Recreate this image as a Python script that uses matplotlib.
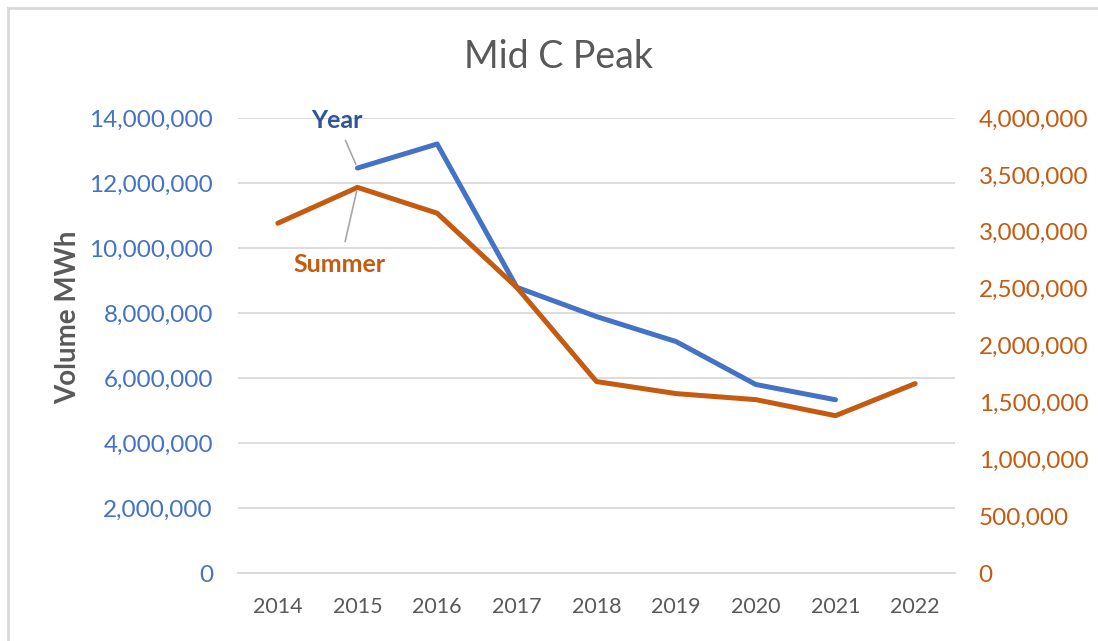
import matplotlib
matplotlib.use('Agg')
import matplotlib.pyplot as plt
from matplotlib.ticker import FuncFormatter, MultipleLocator
from matplotlib.lines import Line2D

# --- data ---
years = [2014, 2015, 2016, 2017, 2018, 2019, 2020, 2021, 2022]
year_vol = [None, 12460000, 13200000, 8790000, 7890000, 7120000, 5800000, 5330000, None]
summer_vol = [3075000, 3390000, 3163000, 2510000, 1683000, 1577000, 1524000, 1383000, 1665000]

BLUE = '#4472C4'
ORANGE = '#C55A11'
GREY = '#595959'

plt.rcParams['font.family'] = ['Lato', 'DejaVu Sans']

fig = plt.figure(figsize=(10.98, 6.41), dpi=100)
ax = fig.add_axes([238/1098, 1 - 573/641, (955-238)/1098, (573-118)/641])
ax2 = ax.twinx()

xs = list(range(len(years)))
yx = [x for x, v in zip(xs, year_vol) if v is not None]
yv = [v for v in year_vol if v is not None]
ax.plot(yx, yv, color=BLUE, lw=3.6, solid_capstyle='round', solid_joinstyle='round', zorder=3)
ax2.plot(xs, summer_vol, color=ORANGE, lw=3.6, solid_capstyle='round', solid_joinstyle='round', zorder=3)

ax.set_xlim(-0.5, len(years) - 0.5)
ax.set_ylim(0, 14000000)
ax2.set_ylim(0, 4000000)
ax.yaxis.set_major_locator(MultipleLocator(2000000))
ax2.yaxis.set_major_locator(MultipleLocator(500000))
fmt = FuncFormatter(lambda v, p: f'{v:,.0f}')
ax.yaxis.set_major_formatter(fmt)
ax2.yaxis.set_major_formatter(fmt)
ax.set_xticks(xs)
ax.set_xticklabels([str(y) for y in years])

ax.grid(axis='y', color='#D9D9D9', lw=1.3)
ax.set_axisbelow(True)
for a in (ax, ax2):
    for s in a.spines.values():
        s.set_visible(False)
ax.spines['bottom'].set_visible(True)
ax.spines['bottom'].set_color('#D9D9D9')
ax.spines['bottom'].set_linewidth(1.3)

ax.tick_params(axis='y', length=0, pad=18, labelsize=17.5, labelcolor=BLUE)
ax2.tick_params(axis='y', length=0, pad=17, labelsize=17.5, labelcolor=ORANGE)
ax.tick_params(axis='x', length=0, pad=17, labelsize=15.5, labelcolor=GREY)

fig.text(68/1098, 1 - 317/641, 'Volume MWh', rotation=90, ha='center', va='center',
         fontsize=20, fontweight='bold', color=GREY)

fig.text(558/1098, 1 - 57/641, 'Mid C Peak', ha='center', va='center', fontsize=27, color=GREY)

# series labels with leader lines
ax.annotate('Year', xy=(1, year_vol[1]), xytext=(337/1098, 1 - 121/641), textcoords='figure fraction',
            ha='center', va='center', fontsize=18, fontweight='bold', color='#2F5597',
            arrowprops=dict(arrowstyle='-', color='#A6A6A6', lw=1.2, shrinkA=4, shrinkB=3))
ax2.annotate('Summer', xy=(1, summer_vol[1]), xytext=(340/1098, 1 - 264/641), textcoords='figure fraction',
             ha='center', va='center', fontsize=18, fontweight='bold', color=ORANGE,
             arrowprops=dict(arrowstyle='-', color='#A6A6A6', lw=1.2, shrinkA=6, shrinkB=3))

# chart area border (top and left visible)
fig.add_artist(Line2D([8/1098, 1], [1 - 8/641, 1 - 8/641], color='#D9D9D9', lw=2, transform=fig.transFigure))
fig.add_artist(Line2D([8/1098, 8/1098], [0, 1 - 8/641], color='#D9D9D9', lw=2, transform=fig.transFigure))

fig.savefig('out.png', dpi=100)
